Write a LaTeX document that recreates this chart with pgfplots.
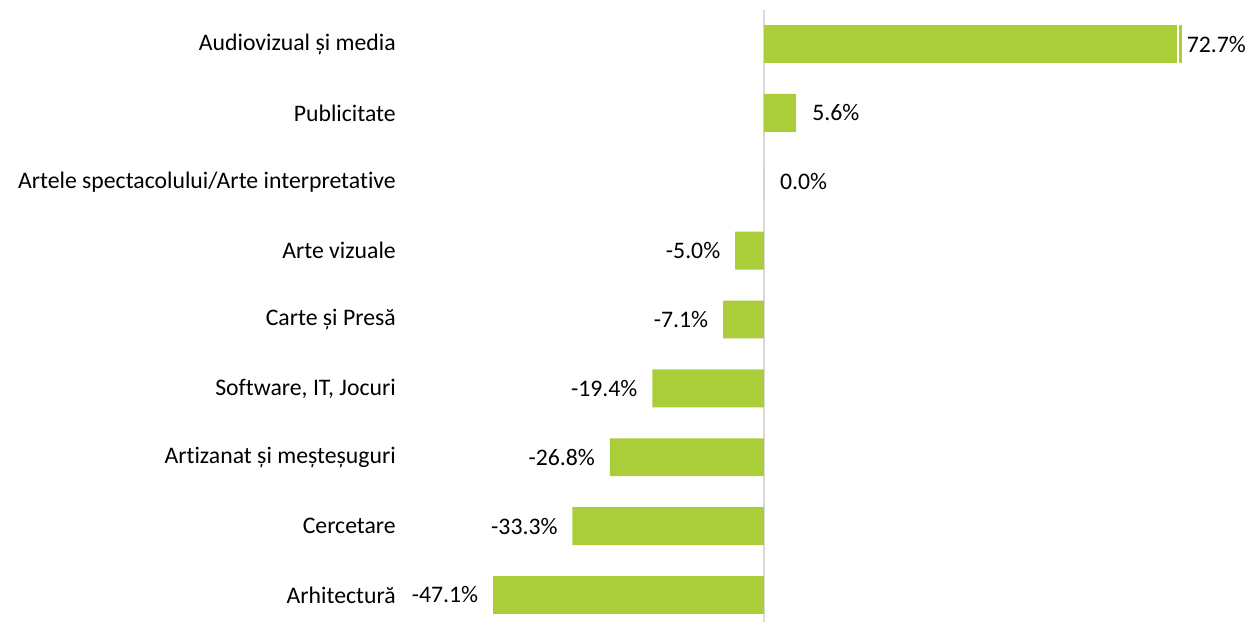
\documentclass[border=0pt]{standalone}
\usepackage{pgfplots}
\pgfplotsset{compat=1.18}
\usepackage{fontspec}
\setmainfont{Carlito}[Ligatures=NoCommon]
\definecolor{barGreen}{RGB}{170,205,58}
\definecolor{zeroGray}{RGB}{217,217,217}

\begin{document}
\begin{tikzpicture}
  \fontsize{17.8}{21}\selectfont
  \begin{axis}[
    scale only axis,
    width = 636pt,
    height = 459.3pt,
    xmin = -63.3, xmax = 84.2,
    ymin = -0.392, ymax = 8.5,
    axis line style = {draw=none},
    xtick = \empty,
    ytick = {0,1,...,8},
    yticklabels = {Arhitectură, Cercetare, Artizanat și meșteșuguri,
      {Software, IT, Jocuri}, Carte și Presă, Arte vizuale,
      Artele spectacolului/Arte interpretative, Publicitate, Audiovizual și media},
    major tick length = 0pt,
    yticklabel style = {anchor=east, inner sep=0pt, xshift=-3pt, font=\fontsize{17.8}{21}\selectfont},
    xbar, bar shift = 0pt, bar width = 0.55,
    point meta = x,
    nodes near coords = {\pgfmathprintnumber[fixed, fixed zerofill, precision=1, assume math mode=true]{\pgfplotspointmeta}\%},
    every node near coord/.append style = {inner sep=0pt, font=\fontsize{17.8}{21}\selectfont, text=black},
    clip = false,
    ]
    % zero line
    \draw[zeroGray, line width=1.5pt] (axis cs:0,-0.392) -- (axis cs:0,8.5);
    % negative values
    \addplot[fill=barGreen, draw=none,
      every node near coord/.append style={anchor=east, xshift=-11pt}]
      coordinates {(-47.1,0) (-33.3,1) (-26.8,2) (-19.4,3) (-7.1,4) (-5.0,5)};
    % zero and small positive
    \addplot[fill=barGreen, draw=none,
      every node near coord/.append style={anchor=west, xshift=12pt}]
      coordinates {(0.0,6) (5.6,7)};
    % largest bar
    \addplot[fill=barGreen, draw=none,
      every node near coord/.append style={anchor=west, xshift=3.5pt}]
      coordinates {(72.7,8)};
    \draw[white, line width=1.6pt] (axis cs:72.05,7.7) -- (axis cs:72.05,8.3);
  \end{axis}
  \pgfresetboundingbox
  \path[use as bounding box] ([xshift=-300pt]current axis.south west) rectangle ([yshift=7.2pt]current axis.north east);
\end{tikzpicture}
\end{document}
